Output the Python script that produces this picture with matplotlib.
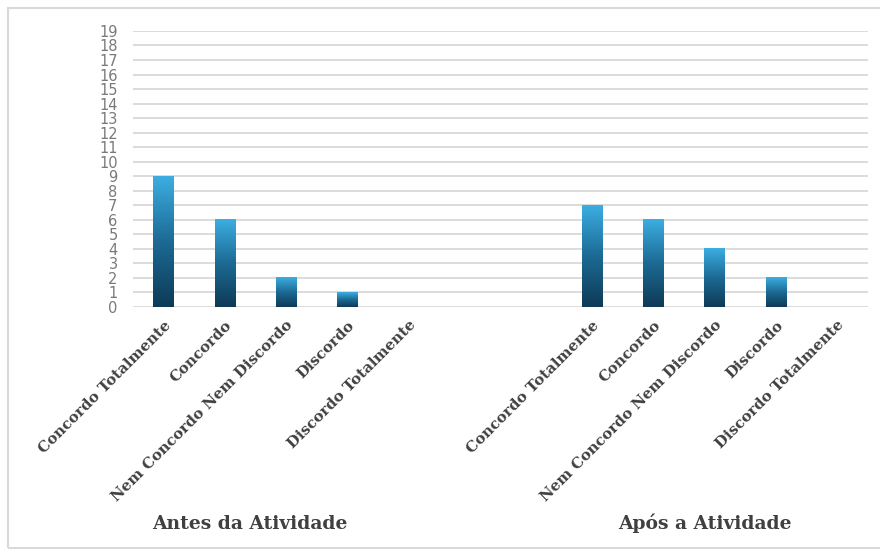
import numpy as np
import matplotlib.pyplot as plt
from matplotlib.patches import Rectangle

categorias = ['Concordo Totalmente', 'Concordo', 'Nem Concordo Nem Discordo',
              'Discordo', 'Discordo Totalmente']
grupos = ['Antes da Atividade', 'Após a Atividade']
antes = [9, 6, 2, 1, 0]
apos = [7, 6, 4, 2, 0]

fig = plt.figure(figsize=(8.8, 5.5), dpi=100)
ax = fig.add_axes([0.151, 0.4418, 0.835, 0.502])

pos_antes = np.arange(5)
pos_apos = np.arange(5) + 7
largura = 0.33

# gradiente vertical das barras (escuro embaixo, claro em cima)
grad = np.linspace(0, 1, 256).reshape(-1, 1)
cmap = plt.matplotlib.colors.LinearSegmentedColormap.from_list(
    'azul', ['#0e3a56', '#1c6a94', '#3caee2'])

for xs, vals in [(pos_antes, antes), (pos_apos, apos)]:
    for x, v in zip(xs, vals):
        if v <= 0:
            continue
        ax.imshow(grad, extent=(x - largura / 2, x + largura / 2, 0, v),
                  origin='lower', cmap=cmap, aspect='auto', zorder=3)

ax.set_xlim(-0.5, 11.5)
ax.set_ylim(0, 19)
ax.set_yticks(range(20))
ax.yaxis.grid(True, color='#d9d9d9', linewidth=1.3, zorder=0)
ax.set_axisbelow(True)
for s in ax.spines.values():
    s.set_visible(False)
ax.tick_params(axis='both', length=0)
ax.tick_params(axis='y', pad=11)
for t in ax.get_yticklabels():
    t.set_fontfamily('DejaVu Sans')
    t.set_fontsize(10.5)
    t.set_color('#7a7a7a')

ax.set_xticks(list(pos_antes) + list(pos_apos))
ax.set_xticklabels(categorias + categorias, rotation=45, ha='right',
                   rotation_mode='anchor', fontfamily='DejaVu Serif',
                   fontweight='bold', fontsize=10.8, color='#404040')
ax.tick_params(axis='x', pad=8)

for g, xc in zip(grupos, [250, 705]):
    fig.text(xc / 880, 1 - 529 / 550, g, ha='center', va='baseline',
             fontfamily='DejaVu Serif', fontweight='bold', fontsize=13.5,
             color='#404040')

fig.patches.append(Rectangle((8 / 880, 2 / 550), 1, 1 - 10 / 550,
                             transform=fig.transFigure, fill=False,
                             edgecolor='#d9d9d9', linewidth=1.5))

fig.savefig('out.png', dpi=100)
